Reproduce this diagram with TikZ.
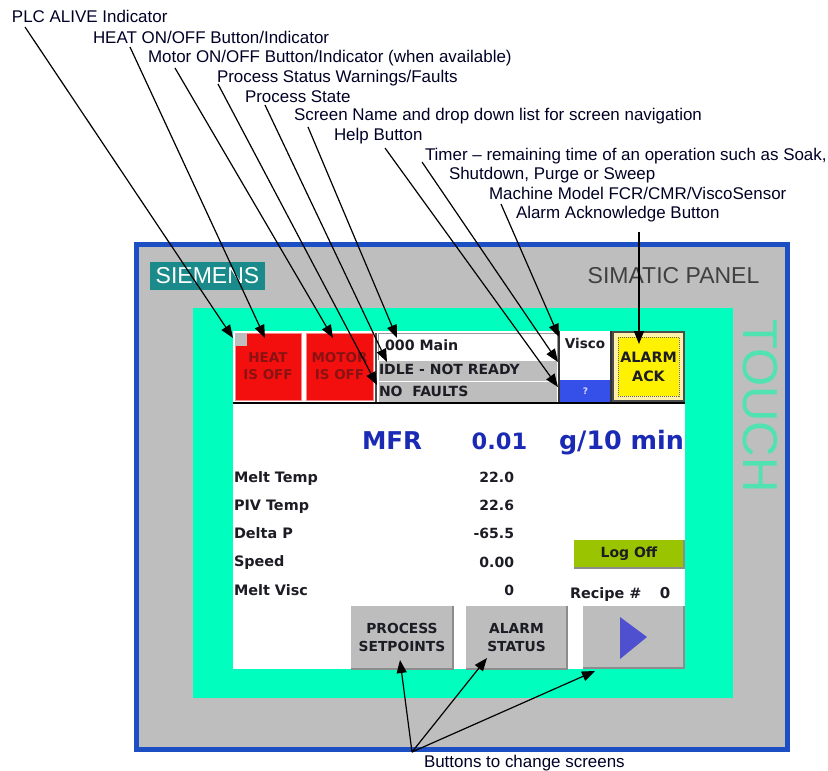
\documentclass[tikz,border=0pt]{standalone}
\usepackage{fontspec}
\setmainfont{Liberation Sans}
\newfontfamily\uifont{DejaVu Sans}
\usetikzlibrary{arrows.meta}
\definecolor{tealgreen}{HTML}{00FFBF}
\definecolor{panelgray}{HTML}{BEBEBE}
\definecolor{panelblue}{HTML}{1C4FC4}
\definecolor{btngray}{HTML}{BDBDBD}
\definecolor{navyui}{HTML}{1A2AB4}
\definecolor{uitext}{HTML}{1C1C24}
\definecolor{heatred}{HTML}{F40F0F}
\definecolor{redtxt}{HTML}{8A1212}
\tikzset{
  x=1pt,y=-1pt,
  every node/.style={outer sep=0pt},
  callout/.style={anchor=base west,inner sep=0pt,font=\fontsize{16.95}{18}\selectfont,text=black!85!blue},
  ptr/.style={draw=black,line width=1.2pt,-{Triangle[length=13pt,width=10pt]}},
  uilabel/.style={anchor=base west,inner sep=0pt,font=\uifont\bfseries\fontsize{14.4}{16}\selectfont,text=uitext},
  uivalue/.style={anchor=base east,inner sep=0pt,font=\uifont\bfseries\fontsize{14}{16}\selectfont,text=uitext},
  uibig/.style={anchor=base,inner sep=0pt,text=navyui},
  fieldtxt/.style={anchor=base west,inner sep=0pt,font=\uifont\bfseries\fontsize{14}{16}\selectfont,text=uitext},
  redbtn/.style={draw=heatred!50!white,line width=1pt,fill=heatred,inner sep=0pt,align=center,text=redtxt,
     font=\uifont\bfseries\fontsize{13.5}{17}\selectfont,anchor=north west},
  graybtn/.style={draw=none,fill=btngray,inner sep=0pt,align=center,text=uitext,
     font=\uifont\bfseries\fontsize{13.8}{18}\selectfont,anchor=north west}
}
\begin{document}
\begin{tikzpicture}
\useasboundingbox (0,0) rectangle (828,771);
\fill[white] (0,0) rectangle (828,771);
% panel
\node[draw=panelblue,line width=5pt,fill=panelgray,anchor=north west,minimum width=651pt,minimum height=505pt,inner sep=0pt] (panel) at (136.5,244.5) {};
\node[fill=tealgreen,anchor=north west,minimum width=540pt,minimum height=390pt,inner sep=0pt] (bezel) at (193,308) {};
\node[fill=white,anchor=north west,minimum width=452pt,minimum height=266pt,inner sep=0pt] (screen) at (233,403) {};
\node[fill=white,anchor=north west,minimum width=452pt,minimum height=72pt,inner sep=0pt] (header) at (233,331) {};
\node[fill={rgb,255:red,26;green,138;blue,138},text=white,anchor=north west,minimum width=115pt,minimum height=28pt,inner sep=0pt,font=\fontsize{23}{24}\selectfont] (siemens) at (150,262) {SIEMENS};
\node[anchor=center,inner sep=0pt,text=black!75,font=\fontsize{23}{24}\selectfont] (simatic) at (673.5,276) {SIMATIC PANEL};
\node[anchor=center,inner sep=0pt,rotate=-90,text={rgb,255:red,80;green,226;blue,176},font=\fontsize{49}{50}\selectfont] (touch) at (760,406) {TOUCH};
% header
\node[redbtn,minimum width=66pt,minimum height=67pt] (heat) at (235,333) {HEAT\\IS OFF};
\node[fill=panelgray,anchor=north west,minimum width=12pt,minimum height=13pt,inner sep=0pt] (alive) at (235,333) {};
\node[redbtn,minimum width=67pt,minimum height=67pt] (motor) at (306,333) {MOTOR\\IS OFF};
\node[fill=white,draw=black!40,anchor=north west,minimum width=179pt,minimum height=27pt,inner sep=0pt] (fmain) at (378,333) {};
\node[fill=btngray,draw=white,anchor=north west,minimum width=179pt,minimum height=21pt,inner sep=0pt] (fidle) at (378,360) {};
\node[fill=btngray,draw=white,anchor=north west,minimum width=179pt,minimum height=21pt,inner sep=0pt] (ffault) at (378,381) {};
\node[fieldtxt,font=\uifont\bfseries\fontsize{14.2}{16}\selectfont] (tmain) at (385,350) {000 Main};
\node[fieldtxt] (tidle) at (379,374) {IDLE - NOT READY};
\node[fieldtxt] (tfault) at (379,396) {NO\ \ FAULTS};
\node[fill=white,anchor=north west,minimum width=50pt,minimum height=49pt,inner sep=0pt] (visco) at (560,331) {};
\node[uilabel,anchor=base,font=\uifont\bfseries\fontsize{13.5}{16}\selectfont] (tvisco) at (585,348) {Visco};
\node[fill={rgb,255:red,52;green,80;blue,232},anchor=north west,minimum width=51pt,minimum height=22pt,inner sep=0pt,text=white!85!blue,font=\uifont\bfseries\fontsize{9}{10}\selectfont] (help) at (560,380) {?};
\node[draw=black!70,line width=2pt,fill={rgb,255:red,255;green,240;blue,170},anchor=north west,minimum width=71pt,minimum height=69pt,inner sep=0pt] (alarmouter) at (613,332) {};
\node[draw=black!60,densely dotted,line width=1pt,fill=yellow,anchor=north west,minimum width=61pt,minimum height=59pt,inner sep=0pt,align=center,text=uitext,font=\uifont\bfseries\fontsize{14.3}{19}\selectfont] (alarm) at (618,337) {ALARM\\ACK};
\coordinate (sepL) at (233,402.5);
\coordinate (sepR) at (685,402.5);
\draw[line width=2pt,black] (sepL) -- (sepR);
\coordinate (divT) at (376,333);
\coordinate (divB) at (376,402);
\draw[line width=2pt,black!70] (divT) -- (divB);
\coordinate (div2T) at (558.5,331);
\coordinate (div2B) at (558.5,402);
\draw[line width=2pt,black!80] (div2T) -- (div2B);
\coordinate (div3T) at (611,331);
\coordinate (div3B) at (611,402);
\draw[line width=2pt,black!80] (div3T) -- (div3B);
% readouts
\node[uibig,font=\uifont\bfseries\fontsize{24.5}{26}\selectfont] (mfr) at (392,449) {MFR};
\node[uibig,font=\uifont\bfseries\fontsize{22.5}{26}\selectfont] (mfrv) at (499.5,449) {0.01};
\node[uibig,font=\uifont\bfseries\fontsize{25.4}{26}\selectfont] (mfru) at (621.5,449) {g/10 min};
\node[uilabel] (l1) at (234,482) {Melt Temp};
\node[uilabel] (l2) at (234,510) {PIV Temp};
\node[uilabel] (l3) at (234,538) {Delta P};
\node[uilabel] (l4) at (234,566) {Speed};
\node[uilabel] (l5) at (234,595) {Melt Visc};
\node[uivalue] (v1) at (514,482) {22.0};
\node[uivalue] (v2) at (514,510) {22.6};
\node[uivalue] (v3) at (514,538) {-65.5};
\node[uivalue] (v4) at (514,567) {0.00};
\node[uivalue] (v5) at (514,595) {0};
\node[fill={rgb,255:red,155;green,196;blue,0},anchor=north west,minimum width=110pt,minimum height=28pt,inner sep=0pt,text=uitext,font=\uifont\bfseries\fontsize{14}{16}\selectfont] (logoff) at (574,540) {Log Off};
\node[uilabel] (recipe) at (570,598) {Recipe \#};
\node[uilabel,anchor=base,font=\uifont\bfseries\fontsize{15}{16}\selectfont] (recipev) at (665,598) {0};
\node[graybtn,minimum width=102pt,minimum height=63pt] (bproc) at (351,606) {PROCESS\\SETPOINTS};
\node[graybtn,minimum width=101pt,minimum height=63pt] (balarm) at (466,606) {ALARM\\STATUS};
\node[graybtn,minimum width=101pt,minimum height=62pt] (bnext) at (583,606) {};
\fill[fill={rgb,255:red,79;green,80;blue,208}] (620,617) -- (647,637) -- (620,659) -- cycle;
\draw[black!45,line width=1.2pt] (bproc.south west) -- (bproc.south east) -- (bproc.north east);
\draw[black!45,line width=1.2pt] (balarm.south west) -- (balarm.south east) -- (balarm.north east);
\draw[black!45,line width=1.2pt] (bnext.south west) -- (bnext.south east) -- (bnext.north east);
\draw[black!45,line width=1.2pt] (logoff.south west) -- (logoff.south east) -- (logoff.north east);
% callout labels
\node[callout] (c1) at (12,23) {PLC ALIVE Indicator};
\node[callout] (c2) at (93,43) {HEAT ON/OFF Button/Indicator};
\node[callout] (c3) at (148,62) {Motor ON/OFF Button/Indicator (when available)};
\node[callout] (c4) at (217,82) {Process Status Warnings/Faults};
\node[callout] (c5) at (245,102) {Process State};
\node[callout] (c6) at (294,120) {Screen Name and drop down list for screen navigation};
\node[callout] (c7) at (334,140) {Help Button};
\node[callout] (c8) at (425,160) {Timer -- remaining time of an operation such as Soak,};
\node[callout] (c8b) at (449,179) {Shutdown, Purge or Sweep};
\node[callout] (c9) at (489,199) {Machine Model FCR/CMR/ViscoSensor};
\node[callout] (c10) at (516,218) {Alarm Acknowledge Button};
\node[callout] (c11) at (424,767) {Buttons to change screens};
% connector ends
\coordinate (s1) at (25,27);   \coordinate (t1) at (233,338);
\coordinate (s2) at (130,47);  \coordinate (t2) at (265,338);
\coordinate (s3) at (175,68);  \coordinate (t3) at (333,338);
\coordinate (s4) at (218,84);  \coordinate (t4) at (377,385);
\coordinate (s5) at (265,105); \coordinate (t5) at (387,362);
\coordinate (s6) at (308,127); \coordinate (t6) at (397,338);
\coordinate (s7) at (385,148); \coordinate (t7) at (558,387);
\coordinate (s8) at (422,162); \coordinate (t8) at (558,362);
\coordinate (s9) at (501,204); \coordinate (t9) at (559,337);
\coordinate (s10) at (639,232); \coordinate (t10) at (639,344);
\coordinate (hub) at (412,752);
\coordinate (t11) at (400,660);
\coordinate (t12) at (487,658);
\coordinate (t13) at (595,671);
\draw[ptr] (s1) -- (t1);
\draw[ptr] (s2) -- (t2);
\draw[ptr] (s3) -- (t3);
\draw[ptr] (s4) -- (t4);
\draw[ptr] (s5) -- (t5);
\draw[ptr] (s6) -- (t6);
\draw[ptr] (s7) -- (t7);
\draw[ptr] (s8) -- (t8);
\draw[ptr] (s9) -- (t9);
\draw[ptr] (s10) -- (t10);
\draw[ptr] (hub) -- (t11);
\draw[ptr] (hub) -- (t12);
\draw[ptr] (hub) -- (t13);
\end{tikzpicture}
\end{document}
